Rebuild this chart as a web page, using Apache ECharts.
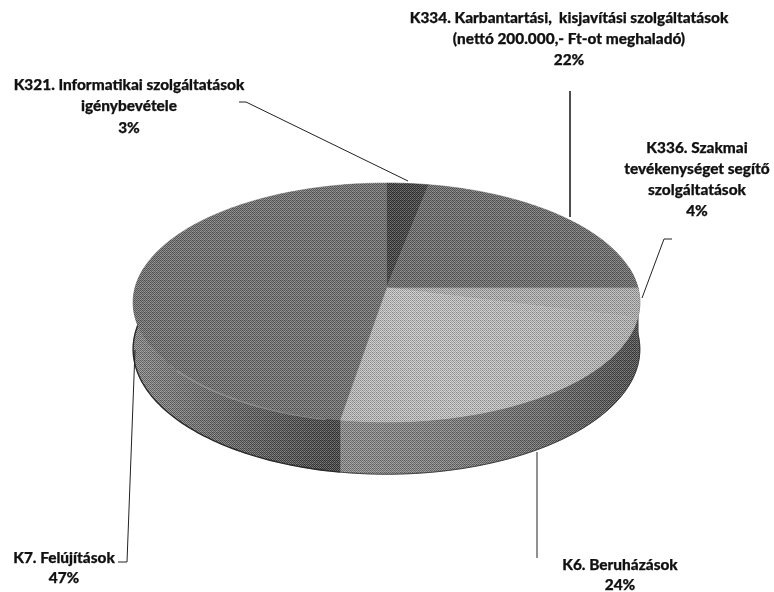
<!DOCTYPE html>
<html><head><meta charset="utf-8">
<style>html,body{margin:0;padding:0;background:#fff}#c{width:774px;height:592px}</style>
<script src="https://cdn.jsdelivr.net/npm/echarts@6/dist/echarts.min.js"></script>
</head><body><div id="c"></div>
<script>
var categories = ['K321. Informatikai szolgáltatások\nigénybevétele','K334. Karbantartási,  kisjavítási szolgáltatások\n(nettó 200.000,- Ft-ot meghaladó)','K336. Szakmai\ntevékenységet segítő\nszolgáltatások','K6. Beruházások','K7. Felújítások'];
var values = [3,22,4,23.6,47.4];
var labelCenters = [[129,85,21.5],[569,18,21],[697,148,21],[620,565,20],[64,558,20]];
var leaders = [
  [[239,102],[246,102],[408,181]],
  [[570,91],[570,217]],
  [[672,239],[664,239],[642,298]],
  [[537,452],[537,558]],
  [[135,350],[127,562],[118,562]]
];
var CX=386.5,CY=288,RX=251.5,RY=117.7,P=0.121,D=46;
function pt(deg,drop){
  var t=deg*Math.PI/180,d=1+P*Math.cos(t);
  return [CX+RX*Math.sin(t)/d, CY-RY*Math.cos(t)/d+(drop||0)/d];
}
var total=values.reduce(function(a,b){return a+b},0);
function span(i){
  var s=0;for(var k=0;k<i;k++)s+=values[k];
  return [s/total*360,(s+values[i])/total*360];
}
function g(x0,y0,x1,y1,stops){
  return new echarts.graphic.LinearGradient(x0,y0,x1,y1,stops.map(function(c,i){return {offset:i/(stops.length-1),color:c}}));
}
var topFill=['#3c3c3c','#6a6a6a','#b2b2b2',g(1,0,0,1,['#b4b4b4','#c0c0c0','#c6c6c6','#bcbcbc']),'#6e6e6e'];
var wallFill=['#444','#444','#474747',g(0,0,1,0,['#8c8c8c','#7e7e7e','#686868','#484848']),g(0,0,1,0,['#868686','#6e6e6e','#565656','#3e3e3e'])];
// deterministic ordered-dither tile that gives the fills their scanned, halftoned grain
var bayer=[0,32,8,40,2,34,10,42,48,16,56,24,50,18,58,26,12,44,4,36,14,46,6,38,60,28,52,20,62,30,54,22,3,35,11,43,1,33,9,41,51,19,59,27,49,17,57,25,15,47,7,39,13,45,5,37,63,31,55,23,61,29,53,21];
var tile=document.createElement('canvas');tile.width=tile.height=8;
(function(){var c=tile.getContext('2d');
  for(var y=0;y<8;y++)for(var x=0;x<8;x++){
    var b=bayer[y*8+x]/63;
    c.fillStyle=b>0.5?'rgba(255,255,255,'+(0.12+0.22*(b-0.5)*2)+')':'rgba(0,0,0,'+(0.12+0.22*(0.5-b)*2)+')';
    c.fillRect(x,y,1,1);
  }})();
var grain={image:tile,repeat:'repeat'};
function topItem(params,api){
  var i=params.dataIndex,sp=span(i),pts=[[CX,CY]];
  for(var a=sp[0];a<sp[1];a+=1)pts.push(pt(a));
  pts.push(pt(sp[1]));
  return {type:'group',children:[
    {type:'polygon',shape:{points:pts},style:{fill:topFill[i],stroke:topFill[i],lineWidth:0.5}},
    {type:'polygon',shape:{points:pts},style:{fill:grain}}
  ]};
}
function wallItem(params,api){
  var i=params.dataIndex,sp=span(i),a0=Math.max(sp[0],80),a1=Math.min(sp[1],280);
  if(a1<=a0)return null;
  var up=[],dn=[],bottom=[];
  for(var a=a0;a<a1;a+=1){up.push(pt(a));dn.unshift(pt(a,D));bottom.push(pt(a,D));}
  up.push(pt(a1));dn.unshift(pt(a1,D));bottom.push(pt(a1,D));
  var poly=up.concat(dn);
  var kids=[
    {type:'polygon',shape:{points:poly},style:{fill:wallFill[i],stroke:wallFill[i],lineWidth:0.5}},
    {type:'polygon',shape:{points:poly},style:{fill:grain}},
    {type:'polyline',shape:{points:bottom},style:{fill:null,stroke:'#2a2a2a',lineWidth:i==4?1.4:0.8}}
  ];
  if(i==4){
    var rim=[];for(var r=a0+3;r<a0+42;r+=1)rim.push(pt(r,1));
    kids.push({type:'polyline',shape:{points:rim},style:{fill:null,stroke:'#a8a8a8',lineWidth:1.4,opacity:0.6}});
  }
  return {type:'group',children:kids};
}
function labelItem(params,api){
  var i=params.dataIndex,v=values[i],lc=labelCenters[i];
  var lines=categories[i].split('\n').concat([Math.round(v)+'%']);
  var kids=[{type:'polyline',shape:{points:leaders[i]},style:{fill:null,stroke:'#222',lineWidth:i==1?1.6:1}}];
  lines.forEach(function(t,k){
    kids.push({type:'text',x:lc[0],y:lc[1]+k*lc[2],style:{text:t,fill:'#111',stroke:'#111',lineWidth:0.25,font:'900 15.4px Lato',align:'center',verticalAlign:'middle'}});
  });
  return {type:'group',children:kids};
}
var chart=echarts.init(document.getElementById('c'),null,{renderer:'canvas'});
var rows=values.map(function(v,i){return {name:categories[i],value:v}});
chart.setOption({
  animation:false,
  backgroundColor:'#fff',
  series:[
    {type:'custom',coordinateSystem:'none',renderItem:wallItem,data:rows,silent:true,z:1},
    {type:'custom',coordinateSystem:'none',renderItem:topItem,data:rows,silent:true,z:2},
    {type:'custom',coordinateSystem:'none',renderItem:labelItem,data:rows,silent:true,z:3}
  ]
});
</script></body></html>
